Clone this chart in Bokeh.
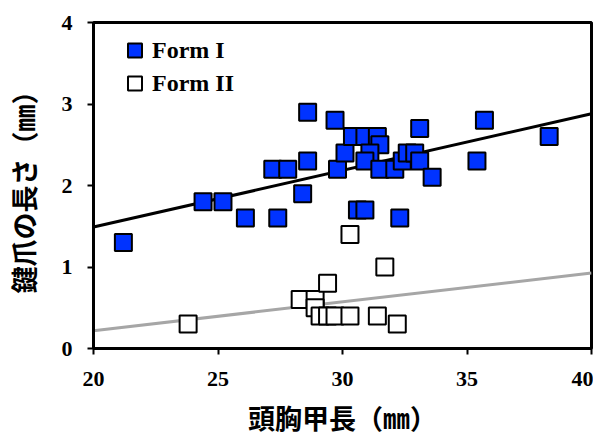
from bokeh.plotting import figure
from bokeh.models import Legend, LegendItem, Range1d, FixedTicker
from bokeh.embed import file_html
from bokeh.resources import INLINE

# Form I (blue)
form1_x = [21.2, 24.4, 25.2, 26.1, 27.4, 27.2, 27.8, 28.4, 28.6, 28.6, 29.7, 29.8,
           30.1, 30.4, 30.9, 31.4, 31.5, 31.1, 30.9, 31.5, 32.1, 32.4, 32.6, 32.9,
           33.1, 33.1, 33.6, 30.6, 30.9, 32.3, 35.4, 35.7, 38.3]
form1_y = [1.3, 1.8, 1.8, 1.6, 1.6, 2.2, 2.2, 1.9, 2.3, 2.9, 2.8, 2.2,
           2.4, 2.6, 2.6, 2.6, 2.5, 2.4, 2.3, 2.2, 2.2, 2.3, 2.4, 2.4,
           2.3, 2.7, 2.1, 1.7, 1.7, 1.6, 2.3, 2.8, 2.6]

# Form II (white)
form2_x = [23.8, 28.3, 28.9, 28.9, 29.4, 29.1, 29.4, 29.7, 30.3, 31.4, 32.2, 31.7, 30.3]
form2_y = [0.3, 0.6, 0.6, 0.5, 0.8, 0.4, 0.4, 0.4, 0.4, 0.4, 0.3, 1.0, 1.4]

# regression lines (slope, intercept)
form1_fit = (0.0695, 0.10)
form2_fit = (0.0353, -0.487)
x_fit = [20, 40]

x_ticks = [20, 25, 30, 35, 40]
y_ticks = [0, 1, 2, 3, 4]

p = figure(width=593, height=440, output_backend="svg", toolbar_location=None,
           x_range=Range1d(20, 40), y_range=Range1d(0, 4),
           min_border_left=92, min_border_right=2, min_border_top=22, min_border_bottom=92)

p.grid.visible = False
p.outline_line_color = "black"
p.outline_line_width = 3
p.background_fill_color = "white"
p.border_fill_color = "white"

l1 = p.line(x_fit, [form1_fit[0] * x + form1_fit[1] for x in x_fit], line_color="black", line_width=3)
l2 = p.line(x_fit, [form2_fit[0] * x + form2_fit[1] for x in x_fit], line_color="#a6a6a6", line_width=3)

s2 = p.scatter(form2_x, form2_y, marker="square", size=17, fill_color="white",
               line_color="black", line_width=2)
s1 = p.scatter(form1_x, form1_y, marker="square", size=17, fill_color="#0033ff",
               line_color="black", line_width=2)

for ax in (p.xaxis[0], p.yaxis[0]):
    ax.axis_line_width = 3
    ax.major_tick_line_width = 2
    ax.major_tick_in = 0
    ax.major_tick_out = 6
    ax.minor_tick_line_color = None
    ax.major_label_text_font = "Liberation Serif"
    ax.major_label_text_font_style = "bold"
    ax.major_label_text_font_size = "22px"
    ax.major_label_text_color = "black"
    ax.axis_label_text_font = "Noto Sans CJK JP"
    ax.axis_label_text_font_style = "bold"
    ax.axis_label_text_font_size = "27px"
    ax.axis_label_text_color = "black"

p.xaxis.ticker = FixedTicker(ticks=x_ticks)
p.yaxis.ticker = FixedTicker(ticks=y_ticks)
p.xaxis.major_label_standoff = 17
p.yaxis.major_label_standoff = 15
p.xaxis.axis_label = "頭胸甲長（㎜）"
p.yaxis.axis_label = "鍵爪の長さ（㎜）"
p.xaxis.axis_label_standoff = 9
p.yaxis.axis_label_standoff = 16


def make_legend(label, renderer, loc):
    lg = Legend(items=[LegendItem(label=label, renderers=[renderer])], location=loc)
    lg.background_fill_alpha = 0
    lg.border_line_color = None
    lg.label_text_font = "Liberation Serif"
    lg.label_text_font_style = "bold"
    lg.label_text_font_size = "24px"
    lg.label_text_color = "black"
    lg.glyph_width = 35
    lg.glyph_height = 40
    lg.margin = 0
    lg.padding = 0
    lg.label_standoff = 0
    return lg


p.add_layout(make_legend("Form I", s1, (24, 278)))
p.add_layout(make_legend("Form II", s2, (24, 245)))

open("out.html", "w").write(file_html(p, INLINE))
